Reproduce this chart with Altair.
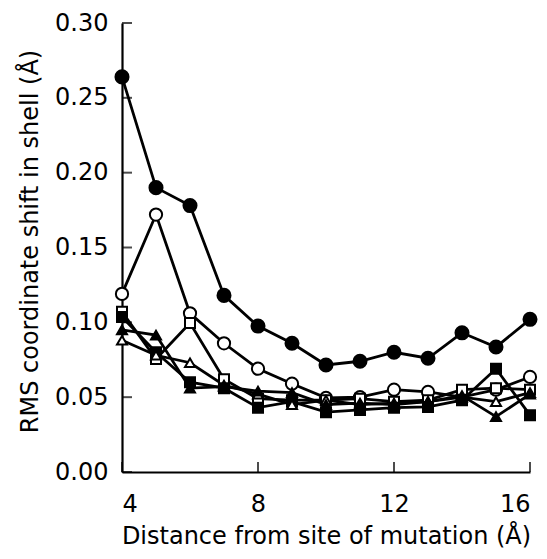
import altair as alt
import pandas as pd

distance = [4, 5, 6, 7, 8, 9, 10, 11, 12, 13, 14, 15, 16]
filled_circle = [0.264, 0.190, 0.178, 0.118, 0.0975, 0.086, 0.0715, 0.074, 0.080, 0.076, 0.093, 0.0835, 0.102]
open_circle = [0.119, 0.172, 0.106, 0.086, 0.069, 0.059, 0.0495, 0.050, 0.055, 0.0535, 0.050, 0.055, 0.0635]
open_square = [0.107, 0.0755, 0.0995, 0.062, 0.049, 0.048, 0.048, 0.049, 0.047, 0.048, 0.055, 0.056, 0.055]
filled_square = [0.1035, 0.080, 0.060, 0.056, 0.043, 0.047, 0.040, 0.0415, 0.043, 0.0435, 0.048, 0.069, 0.038]
open_triangle = [0.088, 0.078, 0.073, 0.058, 0.052, 0.045, 0.048, 0.045, 0.046, 0.047, 0.050, 0.047, 0.053]
filled_triangle = [0.095, 0.0915, 0.056, 0.057, 0.054, 0.053, 0.045, 0.046, 0.045, 0.047, 0.051, 0.037, 0.052]

y_ticks = [0.0, 0.05, 0.10, 0.15, 0.20, 0.25, 0.30]
x_ticks = [4, 8, 12, 16]

series = [
    ("filled_circle", filled_circle, "circle", True, 170),
    ("open_circle", open_circle, "circle", False, 150),
    ("open_square", open_square, "square", False, 100),
    ("filled_square", filled_square, "square", True, 100),
    ("open_triangle", open_triangle, "triangle-up", False, 100),
    ("filled_triangle", filled_triangle, "triangle-up", True, 100),
]

rows = []
for name, vals, shape, filled, size in series:
    for d, v in zip(distance, vals):
        rows.append({"series": name, "d": d, "v": v})
df = pd.DataFrame(rows)

xs = alt.Scale(domain=[4, 16], nice=False, zero=False)
ys = alt.Scale(domain=[0, 0.30], nice=False, zero=True)

xax = alt.Axis(values=x_ticks, ticks=False, tickSize=0, labelPadding=20, format="d",
               title="Distance from site of mutation (Å)", titlePadding=8)
yax = alt.Axis(values=y_ticks, ticks=False, tickSize=0, labelPadding=14, format=".2f",
               title="RMS coordinate shift in shell (Å)", titlePadding=12, titleY=218)

lines = alt.Chart(df).mark_line(color="black", strokeWidth=2.8).encode(
    x=alt.X("d:Q", scale=xs, axis=xax),
    y=alt.Y("v:Q", scale=ys, axis=yax),
    detail="series:N",
)

layers = [lines]
for name, vals, shape, filled, size in series:
    sub = pd.DataFrame({"d": distance, "v": vals})
    pt = alt.Chart(sub).mark_point(
        shape=shape, size=size, filled=True,
        fill="black" if filled else "white",
        stroke="black", strokeWidth=2, opacity=1,
    ).encode(x=alt.X("d:Q", scale=xs), y=alt.Y("v:Q", scale=ys))
    layers.append(pt)

ytick_df = pd.DataFrame({"v": y_ticks, "d": [4] * len(y_ticks)})
xtick_df = pd.DataFrame({"d": x_ticks, "v": [0] * len(x_ticks)})
yt = alt.Chart(ytick_df).mark_tick(orient="horizontal", size=10, thickness=2, xOffset=5, color="black").encode(
    x=alt.X("d:Q", scale=xs), y=alt.Y("v:Q", scale=ys))
xt = alt.Chart(xtick_df).mark_tick(orient="vertical", size=10, thickness=2, yOffset=-5, color="black").encode(
    x=alt.X("d:Q", scale=xs), y=alt.Y("v:Q", scale=ys))
layers = [yt, xt] + layers

chart = alt.layer(*layers).properties(
    width=408, height=449,
    autosize=alt.AutoSizeParams(type="none"),
    padding={"left": 114, "top": 15, "right": 9, "bottom": 80},
).configure_view(stroke=None).configure_axis(
    domainColor="black", domainWidth=2.2, grid=False,
    labelFont="DejaVu Sans", labelFontSize=24, labelColor="black",
    titleFont="DejaVu Sans", titleFontSize=24, titleFontWeight="normal", titleColor="black",
)

chart.save("out.html", embed_options={"renderer": "svg", "actions": False})
